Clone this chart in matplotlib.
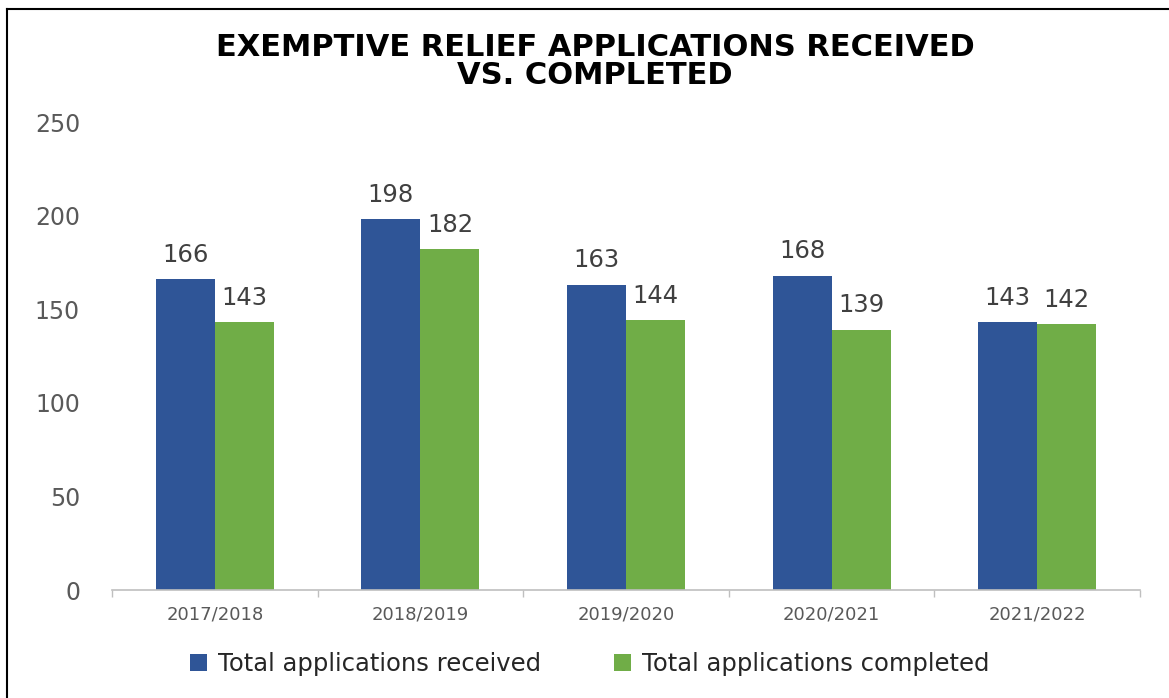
import numpy as np
import matplotlib.pyplot as plt
from matplotlib.lines import Line2D

# Data
years = ['2017/2018', '2018/2019', '2019/2020', '2020/2021', '2021/2022']
received = [166, 198, 163, 168, 143]
completed = [143, 182, 144, 139, 142]

blue = '#2F5597'
green = '#70AD47'

fig = plt.figure(figsize=(11.69, 6.98), dpi=100)
ax = fig.add_axes([0.0958, 0.1547, 0.8794, 0.6705])

x = np.arange(len(years))
w = 0.287
b1 = ax.bar(x - w / 2, received, w, color=blue, label='Total applications received')
b2 = ax.bar(x + w / 2, completed, w, color=green, label='Total applications completed')

for bars in (b1, b2):
    for rect in bars:
        ax.annotate(f'{rect.get_height():.0f}',
                    (rect.get_x() + rect.get_width() / 2, rect.get_height()),
                    xytext=(0, 9), textcoords='offset points',
                    ha='center', va='bottom', fontsize=17.5, color='#404040')

ax.set_xlim(-0.5, len(years) - 0.5)
ax.set_ylim(0, 250)
ax.set_yticks(range(0, 251, 50))
ax.set_xticks(x)
ax.set_xticklabels(years, fontsize=13, color='#595959')
ax.set_xticks(np.arange(-0.5, len(years), 1), minor=True)
ax.tick_params(axis='x', which='major', length=0, pad=11)
ax.tick_params(axis='x', which='minor', length=5, color='#BFBFBF', width=1)
ax.tick_params(axis='y', length=0, labelsize=17, labelcolor='#595959', pad=23)

for s in ('top', 'right', 'left'):
    ax.spines[s].set_visible(False)
ax.spines['bottom'].set_color('#BFBFBF')
ax.spines['bottom'].set_linewidth(1.2)

fig.text(0.509, 0.912, 'EXEMPTIVE RELIEF APPLICATIONS RECEIVED\nVS. COMPLETED',
         ha='center', va='center', fontsize=22, fontweight='bold',
         color='black', linespacing=0.98)

ax.legend(loc='center', bbox_to_anchor=(0.465, -0.158), ncol=2, frameon=False,
          fontsize=17.5, handlelength=0.7, handleheight=0.7,
          handletextpad=0.45, columnspacing=3.0, labelcolor='#262626')

# border lines at top and left
fig.add_artist(Line2D([7 / 1169, 1], [1 - 9 / 698, 1 - 9 / 698], color='black', lw=1.5))
fig.add_artist(Line2D([7 / 1169, 7 / 1169], [0, 1 - 9 / 698], color='black', lw=1.5))

fig.savefig('out.png', dpi=100)
